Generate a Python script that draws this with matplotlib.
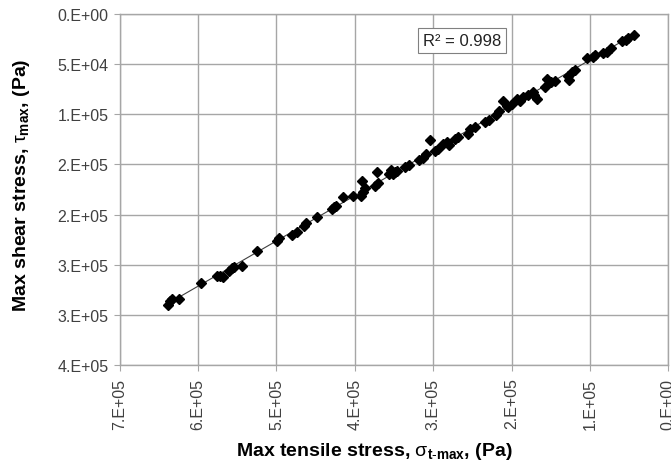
import math
import numpy as np
import matplotlib
matplotlib.use('Agg')
import matplotlib.pyplot as plt
from matplotlib.ticker import FuncFormatter, MultipleLocator

plt.rcParams['font.family'] = ['Liberation Sans', 'DejaVu Sans']
plt.rcParams['mathtext.fontset'] = 'custom'
plt.rcParams['mathtext.rm'] = 'Liberation Sans'
plt.rcParams['mathtext.it'] = 'Liberation Sans'
plt.rcParams['mathtext.bf'] = 'Liberation Sans:bold'

# Max tensile stress (Pa)
tensile = [638000, 635800, 633700, 624300, 596700, 576200, 572000, 568600,
           560200, 557100, 554200, 544300, 525200, 499700, 496700, 480500,
           474200, 464800, 462300, 447900, 429500, 426600, 424000, 415500,
           402700, 392100, 389200, 387000, 391200, 374200, 370000, 372100,
           356000, 353800, 348700, 351700, 346600, 336000, 330500, 317700,
           312600, 309200, 304100, 297700, 293500, 287100, 282800, 279400,
           272200, 268000, 255200, 253000, 246700, 233900, 228400, 219900,
           215600, 210500, 204200, 199800, 206200, 193400, 189200, 185000,
           179400, 171000, 167900, 172300, 157300, 155200, 149700, 144600,
           127600, 126700, 123300, 119100, 104100, 95700, 93500, 82900,
           78600, 73100, 58700, 54400, 51000, 43400]

# Max shear stress (Pa)
shear = [289900, 285900, 284200, 284200, 268200, 261600, 261600, 262600,
         256000, 253600, 252600, 251000, 236600, 226100, 223400, 220100,
         217700, 211100, 208400, 202100, 194500, 192800, 191200, 182200,
         181200, 181200, 177200, 173800, 166200, 171200, 168800, 157900,
         159600, 155600, 157900, 159600, 156900, 152900, 150300, 145600,
         143900, 139600, 125300, 136300, 134600, 129600, 127900, 130300,
         124700, 123000, 119700, 114700, 113000, 108000, 105700, 100400,
         96400, 87100, 93000, 89700, 91400, 84800, 87100, 83100,
         80800, 80800, 84800, 78100, 73100, 64800, 68100, 67100,
         61500, 65800, 57500, 55800, 44200, 43200, 40900, 39200,
         37600, 34200, 27200, 25600, 23900, 20900]

r2_label = 'R² = 0.998'


def excel_sci(v, pos=None):
    # Excel style "0.E+00" with round-half-up mantissa
    if v == 0:
        return '0.E+00'
    exp = int(math.floor(math.log10(abs(v))))
    mant = math.floor(v / 10 ** exp + 0.5)
    if mant >= 10:
        mant //= 10
        exp += 1
    return '%d.E%+03d' % (mant, exp)


fig = plt.figure(figsize=(6.71, 4.64), dpi=100)
ax = fig.add_axes([0.1784, 0.2112, 0.8176, 0.7565])

x = np.array(tensile)
y = np.array(shear)

# linear trendline
coef = np.polyfit(x, y, 1)
xs = np.array([x.min(), x.max()])
ax.plot(xs, np.polyval(coef, xs), color='#404040', lw=0.8, zorder=2)

ax.plot(x, y, linestyle='none', marker='D', ms=4.7, color='black', zorder=3)

ax.set_xlim(700000, 0)
ax.set_ylim(350000, 0)
ax.xaxis.set_major_locator(MultipleLocator(100000))
ax.yaxis.set_major_locator(MultipleLocator(50000))
ax.xaxis.set_major_formatter(FuncFormatter(excel_sci))
ax.yaxis.set_major_formatter(FuncFormatter(excel_sci))

ax.grid(True, color='#a6a6a6', lw=1)
ax.set_axisbelow(True)
for s in ax.spines.values():
    s.set_color('#a6a6a6')
    s.set_linewidth(1)
ax.tick_params(axis='both', colors='#a6a6a6', labelcolor='#404040',
               labelsize=11.5, length=4)
ax.tick_params(axis='y', pad=4)
ax.tick_params(axis='x', pad=5)
plt.setp(ax.get_xticklabels(), rotation=90)

ax.set_xlabel('Max tensile stress, $\\mathrm{\\sigma}_{\\mathbf{t\\text{-}max}}$, (Pa)',
              fontsize=14, fontweight='bold')
ax.set_ylabel('Max shear stress, $\\mathrm{\\tau}_{\\mathbf{max}}$, (Pa)',
              fontsize=14, fontweight='bold')
ax.xaxis.set_label_coords(0.465, -0.215)
ax.yaxis.set_label_coords(-0.16, 0.515)

ax.text(263600, 26600, r2_label, ha='center', va='center', fontsize=12,
        color='#222222',
        bbox=dict(boxstyle='square,pad=0.3', fc='white', ec='#808080', lw=0.8))

fig.savefig('out.png', dpi=100)
